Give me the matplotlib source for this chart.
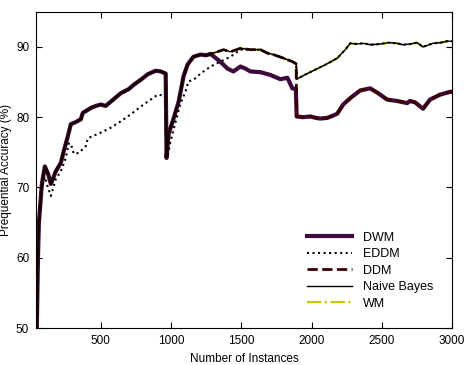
import matplotlib
matplotlib.use("Agg")
import matplotlib.pyplot as plt
import numpy as np

plt.rcParams['font.family'] = ['Liberation Sans', 'DejaVu Sans']

# ---- data ----
# shared path (before the split at ~1280)
main_x = [45, 53, 60, 81, 102, 124, 145, 180, 216, 237, 266, 287, 322, 358, 372, 429, 465, 500,
          535, 571, 642, 700, 734, 790, 834, 890, 926, 962, 968, 983, 1018, 1054, 1089, 1118, 1160,
          1210, 1250, 1281]
main_y = [50, 60, 65, 70.5, 73, 72, 70.5, 72.3, 73.5, 75.2, 77.3, 79.0, 79.3, 79.7, 80.6, 81.3, 81.6, 81.8,
          81.6, 82.2, 83.4, 84.0, 84.6, 85.4, 86.1, 86.6, 86.5, 86.2, 74.2, 77.6, 79.8, 82.2, 85.8, 87.5, 88.6,
          88.9, 88.8, 89.0]

# DWM branch after split (lower)
dwm_tail_x = [1331, 1366, 1402, 1444, 1494, 1530, 1565, 1636, 1707, 1778, 1828, 1863, 1888, 1894,
              1940, 1991, 2030, 2062, 2112, 2150, 2183, 2225, 2275, 2346, 2417, 2474, 2538, 2609,
              2680, 2700, 2737, 2793, 2843, 2914, 2985, 3000]
dwm_tail_y = [88.2, 87.6, 86.9, 86.5, 87.2, 86.9, 86.5, 86.4, 86.0, 85.4, 85.6, 84.1, 84.0, 80.1,
              80.0, 80.1, 79.9, 79.8, 79.9, 80.2, 80.5, 81.8, 82.7, 83.8, 84.1, 83.4, 82.5, 82.3,
              82.0, 82.3, 82.1, 81.2, 82.5, 83.2, 83.6, 83.6]

# upper branch (Naive Bayes / WM / EDDM after merge)
up_x = [1316, 1373, 1423, 1494, 1565, 1636, 1686, 1728, 1799, 1863, 1890, 1896, 1930, 1970,
        2041, 2112, 2183, 2240, 2275, 2320, 2367, 2420, 2488, 2550, 2609, 2650, 2701, 2750,
        2793, 2864, 2920, 2964, 3000]
up_y = [89.2, 89.6, 89.3, 89.8, 89.6, 89.6, 89.1, 88.9, 88.4, 87.9, 87.6, 85.4, 85.8, 86.2,
        86.9, 87.6, 88.4, 89.6, 90.5, 90.4, 90.5, 90.3, 90.4, 90.6, 90.5, 90.3, 90.4, 90.6,
        90.0, 90.5, 90.6, 90.8, 90.8]

# EDDM early path
eddm_x = [45, 53, 60, 81, 102, 124, 145, 180, 216, 251, 273, 287, 308, 344, 394, 408, 500, 571,
          642, 713, 784, 855, 905, 940, 962, 974, 997, 1033, 1068, 1104, 1125, 1160, 1210, 1281,
          1352, 1423, 1494]
eddm_y = [50, 60, 65, 70.0, 71.5, 70.0, 68.8, 71.2, 72.3, 74.2, 76.3, 76.2, 74.8, 74.9, 75.9, 77.0,
          77.8, 78.5, 79.4, 80.4, 81.5, 82.5, 83.2, 83.1, 83.1, 74.2, 76.6, 79.4, 82.0, 83.7, 85.1,
          85.3, 86.2, 87.2, 87.9, 88.6, 89.6]

# ---- assemble series ----
dwm_x = main_x + dwm_tail_x
dwm_y = main_y + dwm_tail_y

nb_x = main_x + up_x
nb_y = main_y + up_y
wm_x = nb_x
wm_y = nb_y

# DDM follows upper branch, then drops to lower branch at ~1895
ddm_upper_x = [x for x in up_x if x <= 1890]
ddm_upper_y = [y for x, y in zip(up_x, up_y) if x <= 1890]
ddm_lower_x = [x for x in dwm_tail_x if x >= 1894]
ddm_lower_y = [y for x, y in zip(dwm_tail_x, dwm_tail_y) if x >= 1894]
ddm_x = main_x + ddm_upper_x + ddm_lower_x
ddm_y = main_y + ddm_upper_y + ddm_lower_y

eddm_full_x = eddm_x + [x for x in up_x if x > 1494]
eddm_full_y = eddm_y + [y for x, y in zip(up_x, up_y) if x > 1494]

# ---- figure ----
fig = plt.figure(figsize=(4.69, 3.65), dpi=100)
ax = fig.add_axes([0.077, 0.101, 0.887, 0.867])

l_wm, = ax.plot(wm_x, wm_y, color='#c8c800', ls='-.', lw=1.6, zorder=1, label='WM')
l_dwm, = ax.plot(dwm_x, dwm_y, color='#3e0a3e', lw=3.0, zorder=2, label='DWM')
l_eddm, = ax.plot(eddm_full_x, eddm_full_y, color='black', ls=':', lw=1.5, zorder=3, label='EDDM')
l_ddm, = ax.plot(ddm_x, ddm_y, color='#3a0000', ls='--', lw=2.0, zorder=4, label='DDM')
l_nb, = ax.plot(nb_x, nb_y, color='black', lw=1.0, zorder=5, label='Naive Bayes')

ax.set_xlim(40, 3000)
ax.set_ylim(50, 95)
ax.set_xticks([500, 1000, 1500, 2000, 2500, 3000])
ax.set_yticks([50, 60, 70, 80, 90])
ax.tick_params(direction='in', top=True, right=True, length=4, labelsize=8.5, pad=5)
ax.set_xlabel('Number of Instances', fontsize=8.5, labelpad=4)
ax.set_ylabel('Prequential Accuracy (%)', fontsize=8.5, labelpad=3)

leg = ax.legend(handles=[l_dwm, l_eddm, l_ddm, l_nb, l_wm], loc='upper left',
                bbox_to_anchor=(0.623, 0.34), bbox_transform=ax.transAxes,
                frameon=False, fontsize=9,
                handlelength=3.6, labelspacing=0.36, handletextpad=0.95)

fig.savefig('out.png', dpi=100)
